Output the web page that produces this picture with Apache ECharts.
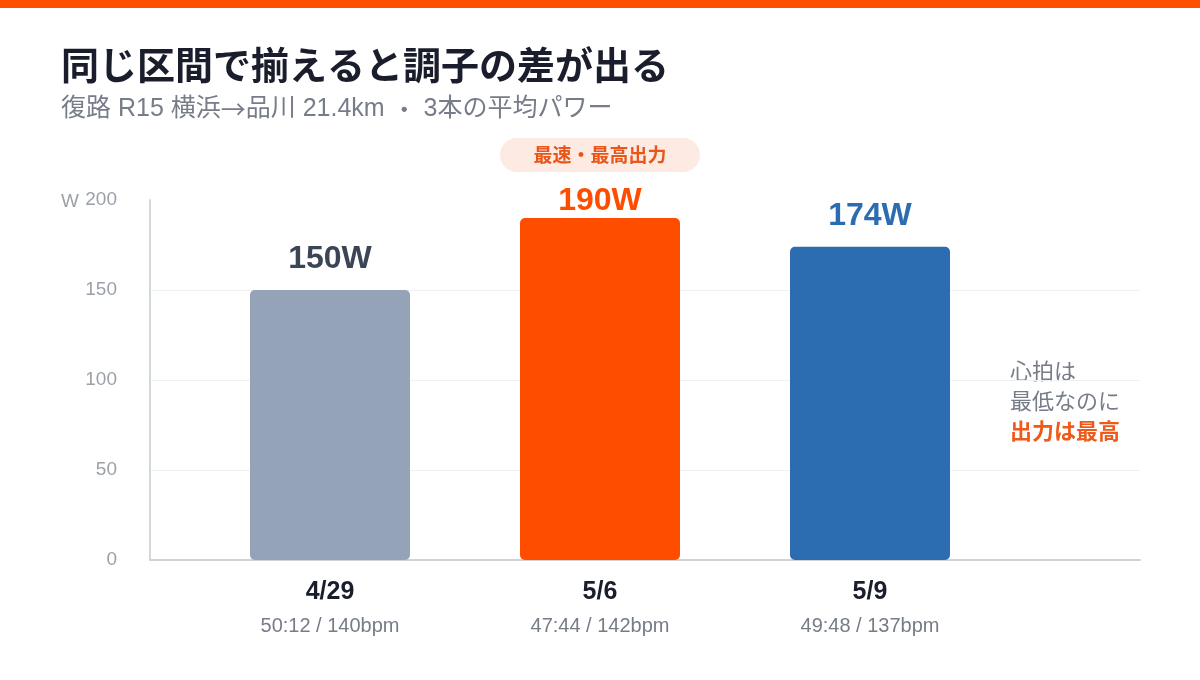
<!DOCTYPE html>
<html>
<head>
  <meta charset="UTF-8">
  <title>同じ区間で揃えると調子の差が出る</title>
  <script src="https://cdn.jsdelivr.net/npm/echarts@6/dist/echarts.min.js"></script>
  <style>
    html, body { margin: 0; padding: 0; background: #fff; }
    #main { width: 1200px; height: 680px; }
  </style>
</head>
<body>
  <div id="main"></div>
  <script type="text/javascript">
    // データ
    var dates = ['4/29', '5/6', '5/9'];
    var times = ['50:12', '47:44', '49:48'];
    var heartRates = [140, 142, 137];
    var power = [150, 190, 174];
    var yTicks = [0, 50, 100, 150, 200];

    // 見た目
    var barColors = ['#94a3b8', '#ff4d00', '#2c6cb0'];
    var labelColors = ['#3b4556', '#ff4d00', '#2c6cb0'];
    var labelDistances = [15, 1, 15]; // 真ん中はバッジと重ならないよう詰める
    var FONT = 'Helvetica, Arial, "Noto Sans CJK JP", sans-serif';
    var CJK = '"Noto Sans CJK JP", sans-serif';

    var barData = power.map(function (v, i) {
      return {
        value: v,
        itemStyle: { color: barColors[i] },
        label: { color: labelColors[i], distance: labelDistances[i] }
      };
    });

    var myChart = echarts.init(document.getElementById('main'));
    var option = {
      backgroundColor: '#ffffff',
      textStyle: { fontFamily: FONT },
      animation: false,
      grid: [
        { left: 150, right: 60, top: 200, bottom: 120 },
        { left: 195, width: 810, top: 200, bottom: 120 }
      ],
      xAxis: [
        {
          gridIndex: 0, type: 'value', min: 0, max: 1,
          axisLine: { show: true, onZero: false, lineStyle: { color: '#cfd2d6', width: 2 } },
          axisTick: { show: false }, axisLabel: { show: false }, splitLine: { show: false }
        },
        {
          gridIndex: 1, type: 'category', data: dates,
          axisLine: { show: false }, axisTick: { show: false },
          axisLabel: {
            margin: 15,
            formatter: function (value, idx) {
              return '{d|' + value + '}\n{s|' + times[idx] + ' / ' + heartRates[idx] + 'bpm}';
            },
            rich: {
              d: { fontFamily: FONT, fontSize: 25, fontWeight: 'bold', color: '#1a1d2b', lineHeight: 34 },
              s: { fontFamily: FONT, fontSize: 20, color: '#767c88', lineHeight: 34 }
            }
          }
        }
      ],
      yAxis: [
        {
          gridIndex: 0, type: 'value', min: yTicks[0], max: yTicks[yTicks.length - 1], interval: 50,
          axisLine: { show: true, lineStyle: { color: '#d2dad9', width: 2 } },
          axisTick: { show: false },
          axisLabel: { margin: 33, fontSize: 19, color: '#9ca1a9', fontFamily: FONT },
          splitLine: {
            show: true,
            lineStyle: { color: ['#eef0f2', '#eef0f2', '#eef0f2', '#eef0f2', 'rgba(0,0,0,0)'], width: 1 }
          }
        },
        {
          gridIndex: 1, type: 'value', min: yTicks[0], max: yTicks[yTicks.length - 1],
          show: false, splitLine: { show: false }
        }
      ],
      series: [
        {
          type: 'bar',
          xAxisIndex: 1,
          yAxisIndex: 1,
          barWidth: 160,
          data: barData,
          itemStyle: { borderRadius: 5 },
          label: {
            show: true,
            position: 'top',
            fontFamily: FONT,
            fontSize: 32,
            fontWeight: 'bold',
            formatter: '{c}W'
          }
        }
      ],
      graphic: [
        // 上部のオレンジ帯
        { type: 'rect', left: 0, top: 0, shape: { width: 1200, height: 8 }, style: { fill: '#ff4f00' } },
        // タイトル
        {
          type: 'text', x: 61, y: 65,
          style: {
            text: '同じ区間で揃えると調子の差が出る', fontFamily: CJK, fontSize: 38, fontWeight: 'bold',
            fill: '#1a1d2b', verticalAlign: 'middle'
          }
        },
        // サブタイトル
        {
          type: 'text', x: 61, y: 109,
          style: {
            text: '復路 R15 横浜{c|→}品川 21.4km {c|・} 3本の平均パワー',
            fontFamily: FONT, fontSize: 25, fill: '#767c88', verticalAlign: 'middle',
            rich: { c: { fontFamily: CJK, fontSize: 25, fill: '#767c88' } }
          }
        },
        // 単位
        { type: 'text', left: 61, top: 192, style: { text: 'W', fontFamily: FONT, fontSize: 19, fill: '#9ca1a9' } },
        // バッジ
        {
          type: 'group', left: 500, top: 138,
          children: [
            { type: 'rect', shape: { x: 0, y: 0, width: 200, height: 34, r: 17 }, style: { fill: '#fdebe3' } },
            {
              type: 'text', x: 100, y: 17,
              style: {
                text: '最速・最高出力', fontFamily: CJK, fontSize: 19, fontWeight: 'bold',
                fill: '#e8561a', align: 'center', verticalAlign: 'middle'
              }
            }
          ]
        },
        // 注釈
        {
          type: 'text', left: 1010, top: 356,
          style: {
            text: '心拍は\n最低なのに\n{b|出力は最高}',
            fontFamily: CJK, fontSize: 22, fill: '#767c88', lineHeight: 30,
            rich: {
              b: { fontFamily: CJK, fontSize: 22, fontWeight: 'bold', fill: '#ef5a1a', lineHeight: 30 }
            }
          }
        }
      ]
    };
    myChart.setOption(option);
  </script>
</body>
</html>
